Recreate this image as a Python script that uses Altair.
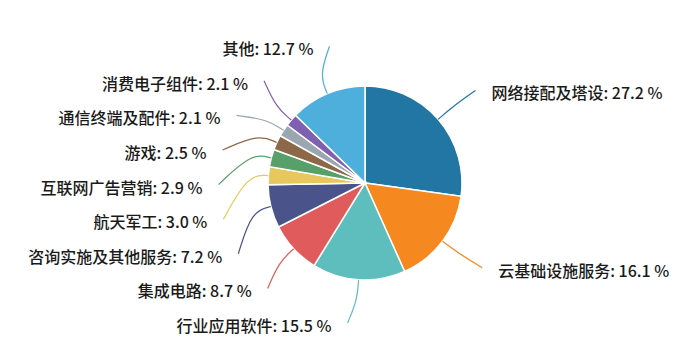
import math
import altair as alt
import pandas as pd

# ---- data ----
cats = ["网络接配及塔设", "云基础设施服务", "行业应用软件", "集成电路", "咨询实施及其他服务",
        "航天军工", "互联网广告营销", "游戏", "通信终端及配件", "消费电子组件", "其他"]
vals = [27.2, 16.1, 15.5, 8.7, 7.2, 3.0, 2.9, 2.5, 2.1, 2.1, 12.7]
colors = ["#2176a3", "#f5891f", "#5ebebe", "#e05c5c", "#4a548a", "#e8c85c",
          "#58a06a", "#8c6848", "#9aa6b0", "#7f60b0", "#4eaedc"]

# ---- layout constants (pixels) ----
W, H = 684, 340
CX, CY = 357, 175          # pie centre inside the plot
R = 97                     # pie radius
RX, RY = 146.5, 141        # label ellipse
BOUND = 140                # vertical bound of label layout
GAP = 34.6                 # min vertical spacing of labels
R1 = R + 20                # leader-line bend radius

total = sum(vals)
mids, acc = [], 0.0
for v in vals:
    mids.append((acc + v / 2) / total * 2 * math.pi)
    acc += v

# label layout: spread labels on each side to avoid overlap
label_dy = [0.0] * len(cats)
for side in ("L", "R"):
    idxs = [i for i, a in enumerate(mids) if (a > math.pi) == (side == "L")]
    items = sorted(((-RY * math.cos(mids[i]), i) for i in idxs))
    ys = [y for y, _ in items]
    for k in range(1, len(ys)):
        ys[k] = max(ys[k], ys[k - 1] + GAP)
    if ys:
        ys[-1] = min(ys[-1], BOUND)
        for k in range(len(ys) - 2, -1, -1):
            ys[k] = min(ys[k], ys[k + 1] - GAP)
    for (y0, i), y in zip(items, ys):
        label_dy[i] = y

slice_rows, line_rows, label_rows = [], [], []
for i, (c, v) in enumerate(zip(cats, vals)):
    a = mids[i]
    sgn = -1 if a > math.pi else 1
    dy = label_dy[i]
    lx = sgn * RX * math.sqrt(max(0.0, 1 - (dy / RY) ** 2))
    ly = -dy
    slice_rows.append({"cat": c, "value": v, "idx": i})
    pts = [(R * math.sin(a), R * math.cos(a)), (R1 * math.sin(a), R1 * math.cos(a)), (lx, ly)]
    for k, (px, py) in enumerate(pts):
        line_rows.append({"cat": c, "x": px, "y": py, "k": k})
    label_rows.append({"cat": c, "x": lx, "y": ly, "side": "L" if sgn < 0 else "R",
                       "text": f"{c}: {v:.1f} %"})

slices = pd.DataFrame(slice_rows)
lines = pd.DataFrame(line_rows)
labels = pd.DataFrame(label_rows)

xs = alt.Scale(domain=[-CX, W - CX], nice=False, zero=False)
ys_ = alt.Scale(domain=[-(H - CY), CY], nice=False, zero=False)
cs = alt.Scale(domain=cats, range=colors)

arc = alt.Chart(slices).mark_arc(outerRadius=R, stroke="white", strokeWidth=1.5).encode(
    theta=alt.Theta("value:Q", stack=True),
    order=alt.Order("idx:Q"),
    color=alt.Color("cat:N", scale=cs, legend=None),
    x=alt.XDatum(0, type="quantitative", scale=xs, axis=None),
    y=alt.YDatum(0, type="quantitative", scale=ys_, axis=None),
)

leader = alt.Chart(lines).mark_line(interpolate="basis", strokeWidth=1.2).encode(
    x=alt.X("x:Q", scale=xs, axis=None),
    y=alt.Y("y:Q", scale=ys_, axis=None),
    color=alt.Color("cat:N", scale=cs, legend=None),
    order=alt.Order("k:Q"),
)

font = "Noto Sans CJK SC"
txt_l = alt.Chart(labels).transform_filter(alt.datum.side == "L").mark_text(
    align="right", baseline="middle", dx=-16, dy=4, font=font, fontSize=16,
    fontWeight=500, color="#1a1a1a"
).encode(x=alt.X("x:Q", scale=xs, axis=None), y=alt.Y("y:Q", scale=ys_, axis=None), text="text:N")

txt_r = alt.Chart(labels).transform_filter(alt.datum.side == "R").mark_text(
    align="left", baseline="middle", dx=16, dy=4, font=font, fontSize=16,
    fontWeight=500, color="#1a1a1a"
).encode(x=alt.X("x:Q", scale=xs, axis=None), y=alt.Y("y:Q", scale=ys_, axis=None), text="text:N")

chart = alt.layer(arc, leader, txt_l, txt_r).properties(
    width=W, height=H, padding=0
).configure_view(stroke=None)

chart.save("out.html", embed_options={"renderer": "svg", "actions": False})
